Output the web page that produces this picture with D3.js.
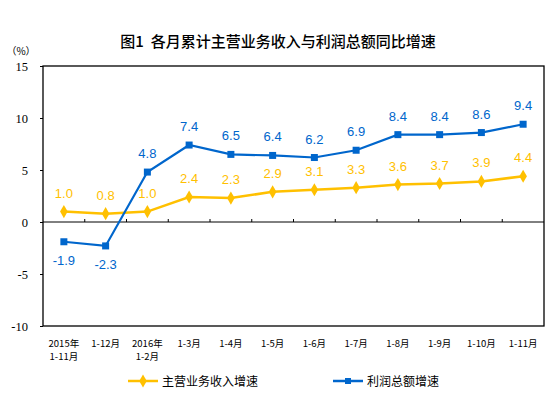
<!DOCTYPE html>
<html><head><meta charset="utf-8">
<script src="https://cdn.jsdelivr.net/npm/d3@7"></script>
<style>body{margin:0;background:#fff}</style></head>
<body><svg id="c" width="551" height="397"></svg>
<script>
const categories = [["2015年","1-11月"],["1-12月"],["2016年","1-2月"],["1-3月"],["1-4月"],["1-5月"],["1-6月"],["1-7月"],["1-8月"],["1-9月"],["1-10月"],["1-11月"]];
const revenue = [1.0,0.8,1.0,2.4,2.3,2.9,3.1,3.3,3.6,3.7,3.9,4.4];
const profit = [-1.9,-2.3,4.8,7.4,6.5,6.4,6.2,6.9,8.4,8.4,8.6,9.4];
const yTicks = [-10,-5,0,5,10,15];
const seriesNames = ["主营业务收入增速","利润总额增速"];
const title = "图1  各月累计主营业务收入与利润总额同比增速";

const svg = d3.select("#c");
const L=43, R=544, T=66, B=326;
const x = d3.scaleBand().domain(d3.range(categories.length)).range([L,R]);
const y = d3.scaleLinear().domain([-10,15]).range([B,T]);
const cjk = "'Noto Sans CJK SC', sans-serif";

svg.append("text").attr("x",278).attr("y",47).attr("text-anchor","middle").attr("xml:space","preserve")
  .attr("font-family",cjk).attr("font-weight",500).attr("font-size",15).attr("fill","#000").text(title);
svg.append("text").attr("x",21).attr("y",55).attr("text-anchor","middle")
  .attr("font-family",cjk).attr("font-size",10).text("（%）");

// box
svg.append("rect").attr("x",L).attr("y",T).attr("width",R-L).attr("height",B-T)
  .attr("fill","none").attr("stroke","#000").attr("stroke-width",1.3);

// y axis
const ya = d3.axisLeft(y).tickValues(yTicks).tickSize(3).tickPadding(12).tickFormat(d=>String(d));
const gy = svg.append("g").attr("transform",`translate(${L},0)`).call(ya);
gy.select(".domain").remove();
gy.selectAll("line").attr("stroke","#000");
gy.selectAll("text").attr("font-family","'Liberation Serif', serif").attr("font-size",12.5).attr("fill","#000");

// zero line with ticks
svg.append("line").attr("x1",L).attr("x2",R).attr("y1",y(0)).attr("y2",y(0)).attr("stroke","#000").attr("stroke-width",1);
svg.selectAll(".xt").data(d3.range(1,categories.length)).join("line")
  .attr("x1",d=>x(d)).attr("x2",d=>x(d)).attr("y1",y(0)).attr("y2",y(0)-3).attr("stroke","#000");

// category labels
const cl = svg.selectAll(".cl").data(categories).join("text")
  .attr("text-anchor","middle").attr("font-family",cjk).attr("font-size",9.5).attr("fill","#000");
cl.each(function(d,i){
  const t=d3.select(this);
  d.forEach((s,j)=>t.append("tspan").attr("x",x(i)+x.bandwidth()/2).attr("y",347+j*13).text(s));
});

const cx = i => x(i)+x.bandwidth()/2;
const line = d3.line().x((d,i)=>cx(i)).y(d=>y(d));
const yellow="#FFC000", blue="#0066CC";

svg.append("path").datum(revenue).attr("d",line).attr("fill","none").attr("stroke",yellow).attr("stroke-width",2.5);
svg.append("path").datum(profit).attr("d",line).attr("fill","none").attr("stroke",blue).attr("stroke-width",2.2);

const diamond = d3.symbol().type(d3.symbolDiamond).size(50);
svg.selectAll(".rm").data(revenue).join("path").attr("d",diamond)
  .attr("transform",(d,i)=>`translate(${cx(i)},${y(d)})`).attr("fill",yellow);
svg.selectAll(".pm").data(profit).join("rect")
  .attr("x",(d,i)=>cx(i)-3.5).attr("y",d=>y(d)-3.5).attr("width",7).attr("height",7).attr("fill",blue);

const lab = "'Liberation Sans', Arial, sans-serif";
svg.selectAll(".rl").data(revenue).join("text").attr("x",(d,i)=>cx(i)).attr("y",d=>y(d)-14)
  .attr("text-anchor","middle").attr("font-family",lab).attr("font-size",13).attr("fill",yellow).text(d=>d.toFixed(1));
svg.selectAll(".pl").data(profit).join("text").attr("x",(d,i)=>cx(i)).attr("y",(d,i)=>i<2? y(d)+23 : y(d)-14)
  .attr("text-anchor","middle").attr("font-family",lab).attr("font-size",13).attr("fill",blue).text(d=>d.toFixed(1));

// legend
const leg = [{x:128,c:yellow,m:"d",name:seriesNames[0]},{x:333,c:blue,m:"s",name:seriesNames[1]}];
leg.forEach(l=>{
  const ly=381;
  svg.append("line").attr("x1",l.x).attr("x2",l.x+30).attr("y1",ly).attr("y2",ly).attr("stroke",l.c).attr("stroke-width",2.5);
  if(l.m==="d") svg.append("path").attr("d",diamond).attr("transform",`translate(${l.x+15},${ly})`).attr("fill",l.c);
  else svg.append("rect").attr("x",l.x+12).attr("y",ly-3).attr("width",6).attr("height",6).attr("fill",l.c);
  svg.append("text").attr("x",l.x+34).attr("y",ly+4.5).attr("font-family",cjk).attr("font-size",12).attr("fill","#000").text(l.name);
});
</script></body></html>
